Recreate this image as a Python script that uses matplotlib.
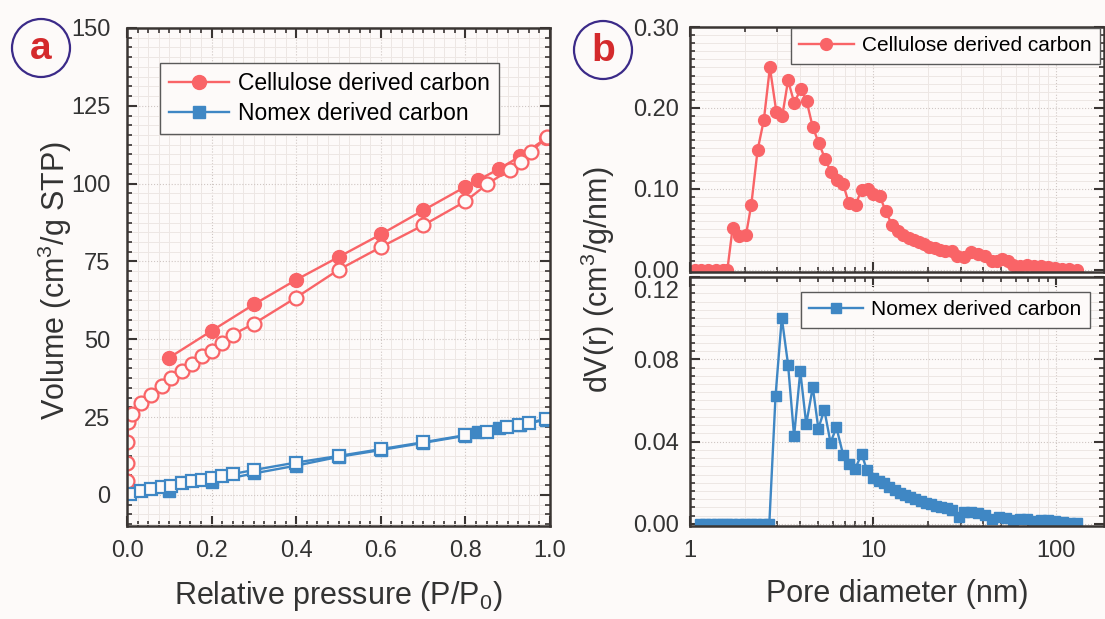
import numpy as np
import matplotlib.pyplot as plt
from matplotlib.patches import Circle
from matplotlib.ticker import MultipleLocator, LogLocator, NullFormatter, FormatStrFormatter

plt.rcParams['font.family'] = ['Liberation Sans', 'DejaVu Sans']
plt.rcParams['mathtext.fontset'] = 'custom'
plt.rcParams['mathtext.rm'] = 'Liberation Sans'
plt.rcParams['mathtext.it'] = 'Liberation Sans:italic'

# (a) isotherms
cel_des_x = [0.10, 0.20, 0.30, 0.40, 0.50, 0.60, 0.70, 0.80, 0.83, 0.88, 0.93, 0.99]
cel_des_y = [44.1, 52.7, 61.2, 69.1, 76.4, 83.7, 91.4, 99.0, 101.1, 104.8, 108.8, 114.5]
cel_ads_x = [0.0, 0.0, 0.0, 0.0, 0.003, 0.011, 0.034, 0.057, 0.082, 0.105, 0.129, 0.154,
             0.178, 0.20, 0.225, 0.25, 0.30, 0.40, 0.50, 0.60, 0.70, 0.80, 0.852, 0.905,
             0.932, 0.955, 0.992]
cel_ads_y = [1.6, 4.3, 10.1, 17.1, 23.5, 26.0, 29.4, 32.1, 34.9, 37.4, 39.7, 42.2,
             44.6, 46.3, 48.8, 51.5, 55.0, 63.4, 72.3, 79.6, 86.6, 94.3, 99.9, 104.5,
             106.8, 110.0, 115.0]
nom_des_x = [0.10, 0.20, 0.30, 0.40, 0.50, 0.60, 0.70, 0.80, 0.83, 0.88, 0.93, 0.99]
nom_des_y = [1.4, 4.1, 6.9, 9.4, 12.2, 14.4, 16.7, 19.0, 20.3, 21.4, 22.3, 24.2]
nom_ads_x = [0.008, 0.034, 0.057, 0.082, 0.105, 0.129, 0.154, 0.178, 0.20, 0.225, 0.25,
             0.30, 0.40, 0.50, 0.60, 0.70, 0.80, 0.85, 0.899, 0.926, 0.951, 0.99]
nom_ads_y = [0.3, 1.1, 1.8, 2.4, 3.0, 3.7, 4.3, 4.8, 5.3, 6.1, 6.7,
             8.0, 10.4, 12.5, 14.7, 16.9, 19.2, 20.3, 21.7, 22.4, 23.2, 24.4]

# (b) pore size distributions
cel_d = [1.06, 1.15, 1.26, 1.38, 1.51, 1.60, 1.71, 1.85, 2.02, 2.16, 2.34, 2.53, 2.73,
         2.96, 3.19, 3.43, 3.71, 4.02, 4.33, 4.68, 5.04, 5.46, 5.88, 6.36, 6.85, 7.35,
         8.02, 8.64, 9.35, 10.0, 10.84, 11.73, 12.69, 13.67, 14.6, 15.59, 16.64, 17.77,
         18.98, 20.26, 21.64, 23.1, 24.66, 26.9, 28.75, 31.4, 34.2, 37.4, 40.8, 44.5,
         47.5, 50.8, 54.2, 57.9, 63.1, 68.9, 75.2, 82.1, 89.7, 97.8, 106.7, 116.5, 130]
cel_dv = [0, 0, 0, 0, 0, 0, 0.052, 0.042, 0.0425, 0.080, 0.148, 0.185, 0.250,
          0.195, 0.190, 0.234, 0.206, 0.2235, 0.2085, 0.176, 0.157, 0.137, 0.1206, 0.111,
          0.106, 0.0826, 0.080, 0.099, 0.100, 0.093, 0.091, 0.072, 0.0547, 0.0478, 0.0425,
          0.0393, 0.0364, 0.0336, 0.0312, 0.0283, 0.0263, 0.0243, 0.0235, 0.0231, 0.017,
          0.0154, 0.0223, 0.0194, 0.017, 0.011, 0.0101, 0.013, 0.010, 0.006, 0.005, 0.006,
          0.004, 0.004, 0.003, 0.002, 0.001, 0.001, 0.0]
nom_d = [1.13, 1.2, 1.3, 1.4, 1.5, 1.6, 1.7, 1.85, 2.0, 2.15, 2.3, 2.5, 2.71,
         2.93, 3.17, 3.43, 3.70, 4.0, 4.31, 4.68, 5.02, 5.41, 5.85, 6.30, 6.85, 7.38,
         7.95, 8.64, 9.26, 9.98, 10.74, 11.48, 12.25, 13.09, 13.97, 14.92, 15.93, 17.0,
         18.16, 19.39, 20.7, 22.1, 23.6, 25.2, 26.9, 29.4, 31.4, 34.2, 37.4, 40.8, 44.5,
         48.6, 53, 57.9, 63.1, 68.9, 75.2, 82.1, 89.7, 97.8, 108.9, 119, 130]
nom_dv = [0] * 13 + [0.0621, 0.1002, 0.0774, 0.0426, 0.0742, 0.0485, 0.0665, 0.0463,
          0.0555, 0.0395, 0.0469, 0.0337, 0.0289, 0.0265, 0.0339, 0.0261, 0.0221, 0.021,
          0.0197, 0.0181, 0.0165, 0.0152, 0.014, 0.0131, 0.0121, 0.0111, 0.0103, 0.0095,
          0.0089, 0.0082, 0.0076, 0.0068, 0.0035, 0.006, 0.006, 0.0052, 0.0044, 0.0024,
          0.0035, 0.0031, 0.0019, 0.0024, 0.0024, 0.0016, 0.0019, 0.0019, 0.0016, 0.0011,
          0.0006, 0.0003]

red = '#f96467'
blue = '#3f87c4'
bg = '#fdfaf9'
dark = '#3a3533'
txt = '#333333'

fig = plt.figure(figsize=(11.05, 6.19), dpi=100, facecolor=bg)
W, H = 1105, 619


def px_axes(x0, y0, x1, y1):
    return fig.add_axes([x0 / W, 1 - y1 / H, (x1 - x0) / W, (y1 - y0) / H], facecolor=bg)


def style(ax):
    for s in ax.spines.values():
        s.set_color(dark)
        s.set_linewidth(1.8)
    ax.tick_params(which='both', direction='in', top=True, right=True, colors=dark,
                   labelsize=17, labelcolor=txt)
    ax.tick_params(which='major', length=7, width=1.5)
    ax.tick_params(which='minor', length=3.5, width=1.2)
    ax.grid(which='minor', color='#ede7e4', lw=0.7, ls='-')
    ax.grid(which='major', color='#cfc6c3', lw=0.8, ls=':')
    ax.set_axisbelow(True)


def add_legend(ax, anchor, loc, size):
    leg = ax.legend(loc=loc, bbox_to_anchor=anchor, borderaxespad=0, fontsize=size,
                    fancybox=False, edgecolor='#5a5a5a', framealpha=1, facecolor=bg,
                    handlelength=2.6, borderpad=0.4, labelspacing=0.3, handletextpad=0.4)
    leg.get_frame().set_linewidth(1.0)
    return leg


# panel a
ax1 = px_axes(127, 28, 550, 526)
style(ax1)
ax1.plot(cel_des_x, cel_des_y, '-o', color=red, ms=10, lw=1.7, label='Cellulose derived carbon')
ax1.plot(cel_ads_x, cel_ads_y, '-o', color=red, ms=10, lw=1.7, mfc=bg, mew=1.6)
ax1.plot(nom_des_x, nom_des_y, '-s', color=blue, ms=8.5, lw=1.7, label='Nomex derived carbon')
ax1.plot(nom_ads_x, nom_ads_y, '-s', color=blue, ms=8.5, lw=1.7, mfc=bg, mew=1.6)
ax1.set_xlim(0, 1.0)
ax1.set_ylim(-10, 150)
ax1.xaxis.set_major_locator(MultipleLocator(0.2))
ax1.xaxis.set_minor_locator(MultipleLocator(0.025))
ax1.yaxis.set_major_locator(MultipleLocator(25))
ax1.yaxis.set_minor_locator(MultipleLocator(3.125))
ax1.xaxis.set_major_formatter(FormatStrFormatter('%.1f'))
ax1.tick_params(axis='x', pad=10)
ax1.tick_params(axis='y', pad=12)
ax1.set_xlabel('Relative pressure (P/P$_0$)', fontsize=22, color=txt, labelpad=12)
ax1.set_ylabel('Volume (cm$^3$/g STP)', fontsize=22, color=txt)
ax1.yaxis.set_label_coords(-0.125, 0.494)
add_legend(ax1, (0.078, 0.930), 'upper left', 16.5)

# panel b
ax2 = px_axes(690, 27, 1104, 272)
ax3 = px_axes(690, 277, 1104, 526)
for ax in (ax2, ax3):
    style(ax)
    ax.set_xscale('log')
    ax.set_xlim(1, 182)
    ax.xaxis.set_major_locator(LogLocator(base=10))
    ax.xaxis.set_minor_locator(LogLocator(base=10, subs=np.arange(2, 10)))
    ax.xaxis.set_minor_formatter(NullFormatter())
    ax.yaxis.set_major_formatter(FormatStrFormatter('%.2f'))
    ax.tick_params(axis='y', pad=8)

ax2.plot(cel_d, cel_dv, '-o', color=red, ms=8.5, lw=1.7, label='Cellulose derived carbon')
ax2.set_ylim(-0.003, 0.30)
ax2.yaxis.set_major_locator(MultipleLocator(0.10))
ax2.yaxis.set_minor_locator(MultipleLocator(0.01))
ax2.tick_params(axis='x', labelbottom=False)
add_legend(ax2, (0.990, 0.996), 'upper right', 15)

ax3.plot(nom_d, nom_dv, '-s', color=blue, ms=7.5, lw=1.7, label='Nomex derived carbon')
ax3.set_ylim(-0.001, 0.12)
ax3.set_yticks([0.0, 0.04, 0.08, 0.12], ['0.00', '0.04', '0.08', ''])
ax3.yaxis.set_minor_locator(MultipleLocator(0.004))
# top label sits a little lower, below the panel junction
ax3.text(-0.027, 0.1125, '0.12', transform=ax3.get_yaxis_transform(), ha='right',
         va='center', fontsize=17, color=txt)
ax3.set_xticks([1, 10, 100], ['1', '10', '100'])
ax3.tick_params(axis='x', pad=10)
ax3.set_xlabel('Pore diameter (nm)', fontsize=22, color=txt, labelpad=12)
add_legend(ax3, (0.966, 0.940), 'upper right', 15)

fig.text(598 / W, 1 - 280 / H, 'dV(r) (cm$^3$/g/nm)', rotation=90, fontsize=22,
         color=txt, ha='center', va='center')

# panel letters
for cx, cy, letter in [(41, 48, 'a'), (603, 50, 'b')]:
    fig.add_artist(Circle((cx / 100, (H - cy) / 100), 0.29, transform=fig.dpi_scale_trans,
                          fill=False, ec='#3b2a88', lw=1.6))
    fig.text(cx / W, 1 - (cy + 1) / H, letter, fontsize=28, fontweight='bold',
             color='#d42a2c', ha='center', va='center')

fig.savefig('out.png', dpi=100, facecolor=bg)
